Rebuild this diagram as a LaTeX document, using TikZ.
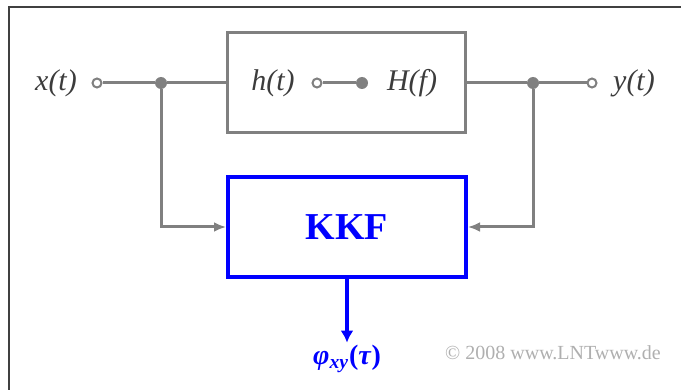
\documentclass[tikz,border=0pt]{standalone}
\usepackage{fontspec}
\setmainfont{Liberation Serif}
\usetikzlibrary{arrows.meta,positioning}
\definecolor{linegray}{RGB}{128,128,128}
\definecolor{textgray}{RGB}{60,60,60}
\definecolor{kkfblue}{RGB}{0,0,255}
\definecolor{copygray}{RGB}{175,175,175}

\begin{document}
\begin{tikzpicture}[x=0.5pt,y=-0.5pt,>=Latex,
    sig/.style={font=\fontsize{15}{17}\selectfont\itshape, text=textgray, inner sep=1pt},
    wire/.style={draw=linegray, line width=1.5pt},
    port/.style={circle, draw=linegray, line width=1pt, fill=white, inner sep=0pt, minimum size=4.5pt},
    jdot/.style={circle, fill=linegray, inner sep=0pt, minimum size=6pt},
    block/.style={draw, minimum width=119pt, minimum height=50pt, inner sep=0pt}]
    \useasboundingbox (0,0) rectangle (681,390);
    % Frame
    \draw[line width=1pt, black!75] (9,390) -- (9,7) -- (681,7);

    % System with impulse response / frequency response
    \node[block, draw=linegray, line width=1.5pt] (hbox) at (346.5,83) {};
    \node[sig] (hlab) at (273,83) {h(t)};
    \node[port] (hport) at (317,83) {};
    \node[jdot] (hdot) at (362,83) {};
    \node[sig] (Hlab) at (412,83) {H(f)};
    \draw[wire] (hport) -- (hdot);

    % Input and output
    \node[sig] (xlab) at (56,83) {x(t)};
    \node[port] (xport) at (97,83) {};
    \node[jdot] (jl) at (161,83) {};
    \node[jdot] (jr) at (533,83) {};
    \node[port] (yport) at (592,83) {};
    \node[sig] (ylab) at (634,83) {y(t)};
    \draw[wire] (xport) -- (jl) -- (hbox.west);
    \draw[wire] (hbox.east) -- (jr) -- (yport);

    % Cross-correlation
    \node[block, draw=kkfblue, line width=2pt, text=kkfblue,
          font=\fontsize{19}{21}\selectfont\bfseries] (kkf) at (347,227) {KKF};
    \draw[wire, -{Latex[length=6pt,width=5pt]}] (jl) |- (kkf.west);
    \draw[wire, -{Latex[length=6pt,width=5pt]}] (jr) |- (kkf.east);
    \node[text=kkfblue, font=\fontsize{14}{16}\selectfont\bfseries\itshape, inner sep=1pt]
        (phi) at (347,359) {φ\textsubscript{xy}\textup{(}τ\textup{)}};
    \draw[draw=kkfblue, line width=2pt, -{Latex[length=6pt,width=6.5pt]}] (kkf) -- (phi.north);

    \node[text=copygray, font=\fontsize{10}{12}\selectfont] (copy) at (553,353) {© 2008 www.LNTwww.de};
\end{tikzpicture}
\end{document}
